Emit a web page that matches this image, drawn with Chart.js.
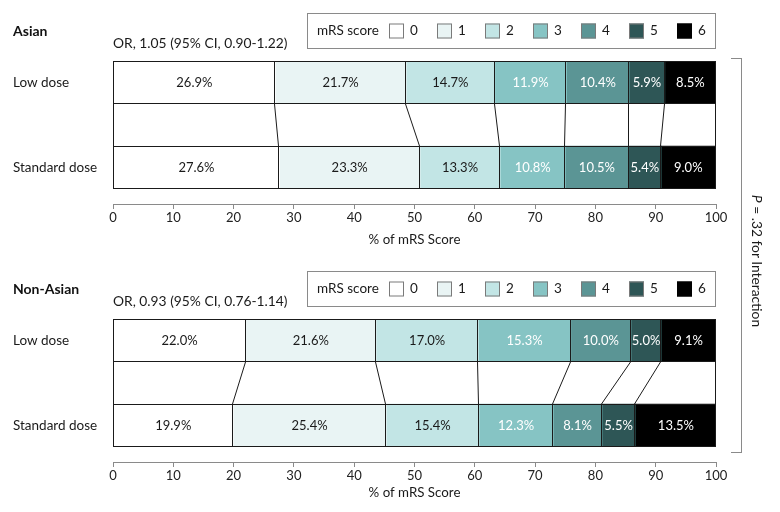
<!DOCTYPE html>
<html>
<head>
<meta charset="utf-8">
<script src="https://cdn.jsdelivr.net/npm/chart.js@4"></script>
<style>
html,body{margin:0;padding:0;background:#fff;}
#wrap{position:relative;width:780px;height:512px;overflow:hidden;font-family:Lato,"Liberation Sans",sans-serif;}
#wrap canvas{position:absolute;left:0;}
#c1{top:0;}
#c2{top:258px;}
#bracket{position:absolute;left:731px;top:58px;width:10px;height:393px;border:1px solid #8a8a8a;border-left:none;}
#ptext{position:absolute;left:757px;top:261px;transform:translate(-50%,-50%) rotate(90deg);white-space:nowrap;font-size:13.8px;color:#1a1a1a;}
</style>
</head>
<body>
<div id="wrap">
  <canvas id="c1" width="780" height="258"></canvas>
  <canvas id="c2" width="780" height="254"></canvas>
  <div id="bracket"></div>
  <div id="ptext"><i>P</i> = .32 for Interaction</div>
</div>
<script>
// ---- data ----
const scores = ['0', '1', '2', '3', '4', '5', '6'];
const doseGroups = ['Low dose', 'Standard dose'];
const asianLow = [26.9, 21.7, 14.7, 11.9, 10.4, 5.9, 8.5];
const asianStd = [27.6, 23.3, 13.3, 10.8, 10.5, 5.4, 9.0];
const nonAsianLow = [22.0, 21.6, 17.0, 15.3, 10.0, 5.0, 9.1];
const nonAsianStd = [19.9, 25.4, 15.4, 12.3, 8.1, 5.5, 13.5];
const xTickValues = [0, 10, 20, 30, 40, 50, 60, 70, 80, 90, 100];
const panelTitles = ['Asian', 'Non-Asian'];
const orTexts = ['OR, 1.05 (95% CI, 0.90-1.22)', 'OR, 0.93 (95% CI, 0.76-1.14)'];
const legendTitle = 'mRS score';
const axisTitle = '% of mRS Score';

// ---- styles ----
const FONT = 'Lato, "Liberation Sans", sans-serif';
const fillColors = ['#ffffff', '#e9f4f4', '#c2e5e5', '#86c4c4', '#5b9595', '#2e5656', '#000000'];
const textColors = ['#1a1a1a', '#1a1a1a', '#1a1a1a', '#ffffff', '#ffffff', '#ffffff', '#ffffff'];
const rowPos = [0, 2];

const panelPlugin = {
  id: 'panel',
  afterDatasetsDraw(chart, args, opts) {
    const ctx = chart.ctx;
    const xs = chart.scales.x;
    const n = chart.data.datasets.length;
    const lowEls = [], stdEls = [];
    for (let i = 0; i < n; i++) {
      const m = chart.getDatasetMeta(i);
      lowEls.push(m.data[0].getProps(['x', 'y', 'base', 'height'], true));
      stdEls.push(m.data[1].getProps(['x', 'y', 'base', 'height'], true));
    }
    const h = lowEls[0].height;
    const lowTop = Math.round(lowEls[0].y - h / 2), lowBottom = Math.round(lowEls[0].y + h / 2);
    const stdTop = Math.round(stdEls[0].y - h / 2), stdBottom = Math.round(stdEls[0].y + h / 2);
    const x0 = Math.round(xs.getPixelForValue(0)), x1 = Math.round(xs.getPixelForValue(100));
    ctx.save();
    ctx.strokeStyle = '#1a1a1a';
    ctx.lineWidth = 1;
    // segment boundaries
    for (let i = 0; i < n - 1; i++) {
      [[lowEls[i], lowTop, lowBottom], [stdEls[i], stdTop, stdBottom]].forEach(([el, t, b]) => {
        const xx = Math.round(el.x) - 0.5;
        ctx.beginPath();
        ctx.moveTo(xx, t);
        ctx.lineTo(xx, b);
        ctx.stroke();
      });
    }
    // outlines of the two bars and of the middle box
    ctx.strokeRect(x0 + 0.5, lowTop + 0.5, x1 - x0 - 1, lowBottom - lowTop - 1);
    ctx.strokeRect(x0 + 0.5, stdTop + 0.5, x1 - x0 - 1, stdBottom - stdTop - 1);
    ctx.strokeRect(x0 + 0.5, lowBottom - 0.5, x1 - x0 - 1, stdTop - lowBottom + 1);
    // connector lines between cumulative boundaries
    for (let i = 0; i < n - 1; i++) {
      ctx.beginPath();
      ctx.moveTo(Math.round(lowEls[i].x) - 0.5, lowBottom);
      ctx.lineTo(Math.round(stdEls[i].x) - 0.5, stdTop);
      ctx.stroke();
    }
    // bar value labels
    ctx.font = '13px ' + FONT;
    ctx.textAlign = 'center';
    ctx.textBaseline = 'middle';
    for (let i = 0; i < n; i++) {
      const m = chart.getDatasetMeta(i);
      m.data.forEach((el, j) => {
        const p = el.getProps(['x', 'y', 'base'], true);
        const v = chart.data.datasets[i].data[j].x;
        ctx.fillStyle = textColors[i];
        ctx.fillText(v.toFixed(1) + '%', (p.x + p.base) / 2, p.y + 0.5);
      });
    }
    ctx.restore();
  },
  afterDraw(chart, args, opts) {
    const ctx = chart.ctx;
    const dy = opts.dy || 0;
    ctx.save();
    ctx.fillStyle = '#111';
    ctx.textBaseline = 'middle';
    ctx.textAlign = 'left';
    ctx.font = 'bold 14px ' + FONT;
    ctx.fillText(opts.title, 13, 31 + dy);
    ctx.font = '13.8px ' + FONT;
    ctx.fillStyle = '#1a1a1a';
    ctx.fillText(opts.orText, 113, 44 + dy);
    // legend
    ctx.strokeStyle = '#8a8a8a';
    ctx.lineWidth = 1;
    ctx.strokeRect(307.5, 13.5 + dy, 408, 35);
    ctx.font = '13.5px ' + FONT;
    ctx.fillStyle = '#1a1a1a';
    ctx.fillText(legendTitle, 317, 31 + dy);
    chart.data.datasets.forEach((ds, i) => {
      const sx = 389 + i * 48;
      ctx.fillStyle = ds.backgroundColor;
      ctx.fillRect(sx, 23.5 + dy, 15, 15);
      ctx.strokeStyle = i === 6 ? '#000' : '#7a7a7a';
      ctx.strokeRect(sx + 0.5, 23.5 + dy + 0.5, 14, 14);
      ctx.fillStyle = '#1a1a1a';
      ctx.fillText(ds.label, sx + 21, 31 + dy);
    });
    ctx.restore();
  }
};

function makePanel(id, H, low, std, p) {
  const unit = 42.3;
  const axisY = 204;
  const datasets = scores.map((s, i) => ({
    label: s,
    data: [{ x: low[i], y: rowPos[0] }, { x: std[i], y: rowPos[1] }],
    backgroundColor: fillColors[i],
    borderWidth: 0,
    barThickness: unit,
    inflateAmount: 0.5
  }));
  return new Chart(document.getElementById(id), {
    type: 'bar',
    data: { datasets },
    options: {
      indexAxis: 'y',
      responsive: false,
      animation: false,
      devicePixelRatio: 1,
      layout: { padding: { top: 61.2, right: 64, left: 13, bottom: 0 } },
      plugins: {
        legend: { display: false },
        tooltip: { enabled: false },
        panel: p
      },
      scales: {
        x: {
          type: 'linear', stacked: true, min: 0, max: 100,
          afterBuildTicks: s => { s.ticks = xTickValues.map(v => ({ value: v })); },
          afterFit: s => { s.height = H - axisY; },
          border: { display: true, color: '#8a8a8a', width: 1 },
          grid: { display: true, drawOnChartArea: false, drawTicks: true, tickLength: 5, color: '#8a8a8a' },
          ticks: { color: '#222', font: { family: FONT, size: 13 }, padding: 1, maxRotation: 0, autoSkip: false },
          title: { display: true, text: axisTitle, color: '#1a1a1a', font: { family: FONT, size: 13.3 }, padding: { top: 0, bottom: p.titlePad } }
        },
        y: {
          type: 'linear', reverse: true, stacked: true, offset: false, min: -0.5, max: 2.86,
          afterBuildTicks: s => { s.ticks = rowPos.map(v => ({ value: v })); },
          afterFit: s => { s.width = 100; },
          ticks: {
            callback: v => { const k = rowPos.indexOf(v); return k >= 0 ? doseGroups[k] : ''; },
            crossAlign: 'far', color: '#1a1a1a', font: { family: FONT, size: 13.5 }, autoSkip: false
          },
          grid: { display: false, offset: false },
          border: { display: false }
        }
      }
    },
    plugins: [panelPlugin]
  });
}

makePanel('c1', 258, asianLow, asianStd, { title: panelTitles[0], orText: orTexts[0], dy: 0, titlePad: 10 });
makePanel('c2', 254, nonAsianLow, nonAsianStd, { title: panelTitles[1], orText: orTexts[1], dy: 0, titlePad: 11 });
</script>
</body>
</html>
